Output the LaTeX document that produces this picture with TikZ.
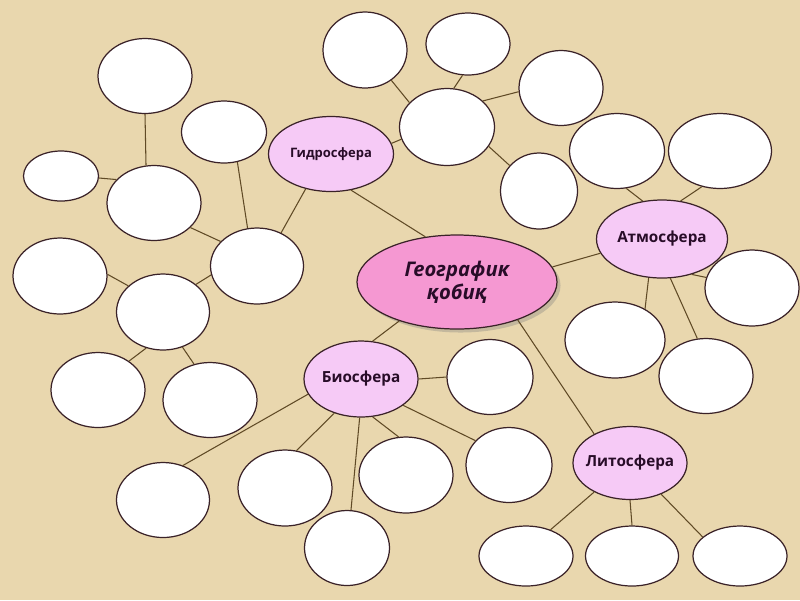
\documentclass[tikz,border=0pt]{standalone}
\usepackage{fontspec}
\setmainfont{Open Sans}
\usetikzlibrary{shapes.geometric,shadows}
\definecolor{parch}{RGB}{233,215,174}
\definecolor{rosy}{RGB}{245,152,210}
\definecolor{lilac}{RGB}{246,202,246}
\definecolor{rimdark}{RGB}{58,34,40}
\definecolor{linebrown}{RGB}{96,74,38}
\definecolor{inkdark}{RGB}{40,12,40}
\begin{document}
\begin{tikzpicture}[x=0.02cm,y=-0.02cm,
    sz/.style 2 args={minimum width=#1*0.02cm,minimum height=#2*0.02cm},
    link/.style={draw=linebrown,line width=0.6pt}]
    \tikzstyle{blank}=[ellipse,draw=rimdark,fill=white,line width=0.7pt,inner sep=0pt]
    \tikzstyle{sphere}=[ellipse,draw=rimdark,fill=lilac,line width=0.7pt,inner ysep=0pt,
        inner xsep=-4pt,text=inkdark,font=\fontsize{8.7}{10}\selectfont\bfseries]

    \useasboundingbox (0,0) rectangle (800,600);
    \fill[parch] (0,0) rectangle (800,600);

    % centre and the four spheres
    \node[ellipse,draw=rimdark,fill=rosy,line width=0.7pt,inner sep=0pt,sz={200}{94},
        drop shadow={opacity=0.35,shadow xshift=2pt,shadow yshift=-2pt},
        align=center,text=inkdark,font=\fontsize{11.5}{13}\selectfont\bfseries\itshape]
        (geo) at (457,282) {Географик\\қобиқ};
    \node[sphere,sz={125}{75},font=\fontsize{7.4}{9}\selectfont\bfseries] (gidro) at (331,154) {Гидросфера};
    \node[sphere,sz={131}{78}] (atmo) at (662,239) {Атмосфера};
    \node[sphere,sz={114}{76}] (bio) at (361,379) {Биосфера};
    \node[sphere,sz={114}{73}] (lito) at (630,463) {Литосфера};

    % empty ellipses
    \node[blank,sz={95}{77}] (ghub) at (447,127) {};
    \node[blank,sz={84}{76}] (g1) at (365,50) {};
    \node[blank,sz={84}{62}] (g2) at (468,44) {};
    \node[blank,sz={84}{75}] (g3) at (561,88) {};
    \node[blank,sz={77}{76}] (g4) at (539,191) {};
    \node[blank,sz={93}{76}] (lhub) at (257,266) {};
    \node[blank,sz={85}{62}] (l2) at (224,132) {};
    \node[blank,sz={94}{75}] (l3) at (154,203) {};
    \node[blank,sz={93}{76}] (l4) at (163,312) {};
    \node[blank,sz={94}{75}] (l5) at (145,76) {};
    \node[blank,sz={75}{50}] (l6) at (61,176) {};
    \node[blank,sz={94}{76}] (l7) at (60,276) {};
    \node[blank,sz={94}{75}] (l8) at (98,390) {};
    \node[blank,sz={94}{75}] (l9) at (210,400) {};
    \node[blank,sz={95}{75}] (a1) at (617,151) {};
    \node[blank,sz={103}{75}] (a2) at (720,151) {};
    \node[blank,sz={94}{76}] (a3) at (752,288) {};
    \node[blank,sz={100}{76}] (a4) at (615,340) {};
    \node[blank,sz={94}{75}] (a5) at (706,376) {};
    \node[blank,sz={86}{75}] (b1) at (490,377) {};
    \node[blank,sz={86}{75}] (b2) at (509,465) {};
    \node[blank,sz={94}{76}] (b3) at (406,475) {};
    \node[blank,sz={85}{75}] (b4) at (347,548) {};
    \node[blank,sz={94}{76}] (b5) at (285,488) {};
    \node[blank,sz={93}{75}] (b6) at (163,500) {};
    \node[blank,sz={94}{60}] (c1) at (526,556) {};
    \node[blank,sz={93}{60}] (c2) at (632,556) {};
    \node[blank,sz={94}{60}] (c3) at (740,556) {};

    % links
    \draw[link] (geo.125) -- (gidro.299);
    \draw[link] (geo.9) -- (atmo.193);
    \draw[link] (geo.214) -- (bio.73);
    \draw[link] (geo.328) -- (lito.141);

    \draw[link] (gidro.10) -- (ghub.195);
    \draw[link] (gidro.234) -- (lhub.54);
    \draw[link] (ghub.147) -- (g1.311);
    \draw[link] (ghub.80) -- (g2.260);
    \draw[link] (ghub.36) -- (g3.185);
    \draw[link] (ghub.335) -- (g4.139);

    \draw[link] (lhub.104) -- (l2.294);
    \draw[link] (lhub.146) -- (l3.326);
    \draw[link] (lhub.191) -- (l4.40);
    \draw[link] (l3.102) -- (l5.270);
    \draw[link] (l3.148) -- (l6.357);
    \draw[link] (l4.143) -- (l7.2);
    \draw[link] (l4.245) -- (l8.43);
    \draw[link] (l4.299) -- (l9.114);

    \draw[link] (atmo.117) -- (a1.284);
    \draw[link] (atmo.64) -- (a2.243);
    \draw[link] (atmo.310) -- (a3.167);
    \draw[link] (atmo.251) -- (a4.46);
    \draw[link] (atmo.282) -- (a5.103);

    \draw[link] (bio.0) -- (b1.180);
    \draw[link] (bio.328) -- (b2.144);
    \draw[link] (bio.287) -- (b3.101);
    \draw[link] (bio.268) -- (b4.84);
    \draw[link] (bio.232) -- (b5.73);
    \draw[link] (bio.196) -- (b6.60);

    \draw[link] (lito.219) -- (c1.47);
    \draw[link] (lito.south) -- (c2.north);
    \draw[link] (lito.315) -- (c3.153);
\end{tikzpicture}
\end{document}
